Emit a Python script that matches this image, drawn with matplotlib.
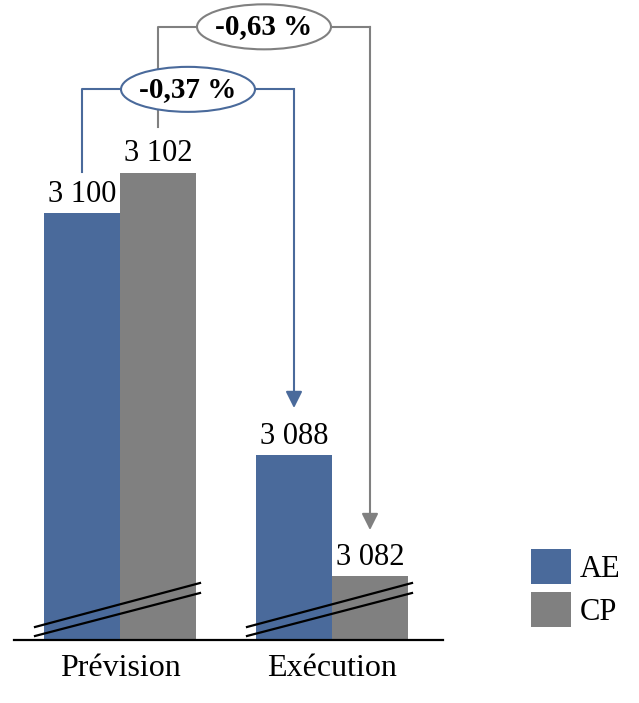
import matplotlib
matplotlib.use("Agg")
import matplotlib.pyplot as plt
from matplotlib.patches import Ellipse, Patch

plt.rcParams['font.family'] = ['Liberation Serif', 'DejaVu Serif']

categories = ['Prévision', 'Exécution']
ae_values = [3100, 3088]
cp_values = [3102, 3082]
value_labels_ae = ['3 100', '3 088']
value_labels_cp = ['3 102', '3 082']
var_ae = '-0,37 %'
var_cp = '-0,63 %'
series = ['AE', 'CP']

blue = '#4A6A9B'
gray = '#808080'

W, H = 639, 703
fig = plt.figure(figsize=(W / 100, H / 100), dpi=100)
ax = fig.add_axes([14 / W, 63 / H, 429 / W, 640 / H])

y0 = 3078.85
s = 20.17            # px per unit
xs = 212.0           # px per category
ax.set_ylim(y0, y0 + 640 / s)
ax.set_xlim(-0.5, -0.5 + 429 / xs)

bw = 76 / xs
x = [0, 1]
x_ae = [i - bw / 2 for i in x]
x_cp = [i + bw / 2 for i in x]

ax.bar(x_ae, [v - y0 for v in ae_values], bottom=y0, width=bw, color=blue, zorder=2)
ax.bar(x_cp, [v - y0 for v in cp_values], bottom=y0, width=bw, color=gray, zorder=2)

fs = 22
for xi, v, t in zip(x_ae, ae_values, value_labels_ae):
    ax.annotate(t, (xi, v), xytext=(0, 8), textcoords='offset points',
                ha='center', va='baseline', fontsize=fs)
for xi, v, t in zip(x_cp, cp_values, value_labels_cp):
    ax.annotate(t, (xi, v), xytext=(0, 8.5), textcoords='offset points',
                ha='center', va='baseline', fontsize=fs)

# axis break marks
for xi in x:
    xl = xi - bw - 9 / xs
    xr = xi + bw + 4 / xs
    ax.plot([xl, xr], [y0 + 13 / s, y0 + 57 / s], color='black', lw=1.6, zorder=3, clip_on=False)
    ax.plot([xl, xr], [y0 + 4 / s, y0 + 47 / s], color='black', lw=1.6, zorder=3, clip_on=False)

# variation connectors
def connector(x1, v1, x2, v2, top, start_off, tip_off, color, label):
    start = v1 + start_off
    tip = v2 + tip_off
    ax.plot([x1, x1, x2], [start, top, top], color=color, lw=1.5, zorder=4, clip_on=False)
    ax.annotate('', xy=(x2, tip), xytext=(x2, top),
                arrowprops=dict(arrowstyle='-|>,head_length=0.5,head_width=0.25',
                                color=color, lw=1.5, mutation_scale=20,
                                shrinkA=0, shrinkB=0), zorder=4)
    xc = (x1 + x2) / 2
    ax.add_patch(Ellipse((xc, top), 134 / xs, 45 / s, facecolor='white',
                         edgecolor=color, lw=1.5, zorder=5, clip_on=False))
    ax.text(xc, top, label, ha='center', va='center', fontsize=21,
            fontweight='bold', zorder=6)

connector(x_cp[0], cp_values[0], x_cp[1], cp_values[1], cp_values[0] + 7.25,
          2.3, 2.3, gray, var_cp)
connector(x_ae[0], ae_values[0], x_ae[1], ae_values[1], ae_values[0] + 6.15,
          2.05, 2.35, blue, var_ae)

ax.set_xticks(x)
ax.set_xticklabels(categories, fontsize=fs + 1)
ax.tick_params(axis='x', length=0, pad=10)
ax.set_yticks([])
for sp in ['top', 'right', 'left']:
    ax.spines[sp].set_visible(False)
ax.spines['bottom'].set_linewidth(1.6)
ax.spines['bottom'].set_zorder(3)

handles = [Patch(facecolor=blue), Patch(facecolor=gray)]
fig.legend(handles, series, loc='upper left', bbox_to_anchor=(531 / W, 1 - 549 / H),
           frameon=False, fontsize=fs, borderpad=0, handlelength=1.3,
           handleheight=1.4, handletextpad=0.3, labelspacing=0.25, borderaxespad=0)

fig.savefig('out.png', dpi=100)
